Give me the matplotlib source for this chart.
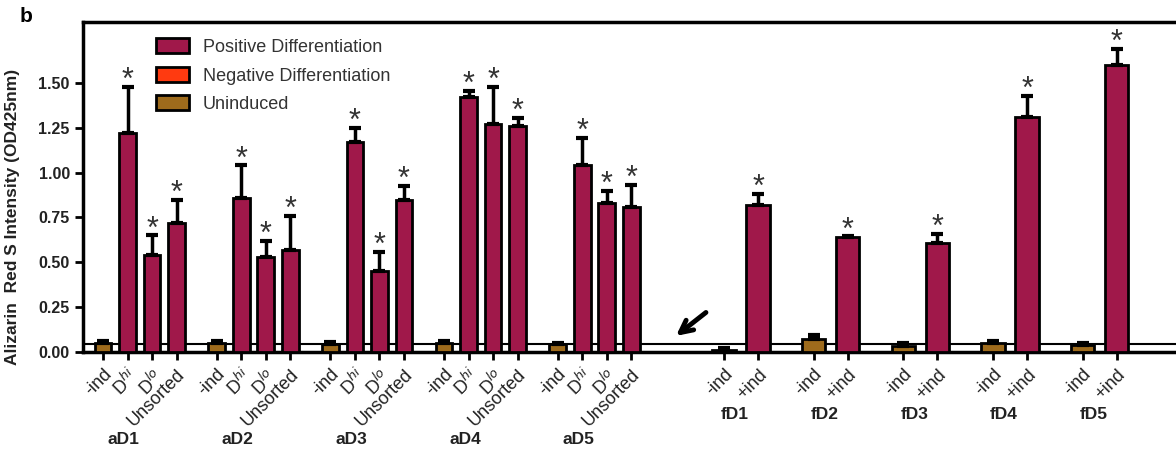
import numpy as np
import matplotlib.pyplot as plt
from matplotlib.patches import Patch

plt.rcParams['font.family'] = ['Liberation Sans', 'DejaVu Sans']

# values
a_groups = ['aD1', 'aD2', 'aD3', 'aD4', 'aD5']
a_labels = ['-ind', 'D$^{hi}$', 'D$^{lo}$', 'Unsorted']
a_means = [[0.05, 1.22, 0.54, 0.72],
           [0.05, 0.86, 0.53, 0.57],
           [0.045, 1.17, 0.45, 0.85],
           [0.05, 1.42, 1.27, 1.26],
           [0.045, 1.04, 0.83, 0.81]]
a_err = [[0.01, 0.26, 0.11, 0.13],
         [0.01, 0.18, 0.09, 0.19],
         [0.01, 0.08, 0.11, 0.075],
         [0.01, 0.035, 0.21, 0.045],
         [0.005, 0.155, 0.07, 0.12]]

f_groups = ['fD1', 'fD2', 'fD3', 'fD4', 'fD5']
f_labels = ['-ind', '+ind']
f_minus = [0.01, 0.07, 0.035, 0.05, 0.04]
f_minus_err = [0.015, 0.025, 0.015, 0.012, 0.012]
f_plus = [0.82, 0.64, 0.61, 1.31, 1.60]
f_plus_err = [0.06, 0.005, 0.05, 0.12, 0.09]

baseline = 0.045

pos_col = '#A0184A'
neg_col = '#FF3A10'
uni_col = '#9E6B1C'

fig = plt.figure(figsize=(11.76, 4.55), dpi=100)
ax = fig.add_axes([83 / 1176, 1 - 352 / 455, 1 - 83 / 1176, 330 / 455])

xticks, xlabels = [], []
err_kw = dict(elinewidth=2.5, capsize=4, capthick=3, ecolor='black')
star_kw = dict(ha='center', va='baseline', fontsize=22, color='#333333', zorder=4)

# adult groups
for g in range(len(a_groups)):
    xs = g * 4.64 + np.arange(4)
    cols = [uni_col, pos_col, pos_col, pos_col]
    errs = [np.zeros(4), np.array(a_err[g])]
    ax.bar(xs, a_means[g], width=0.68, color=cols, edgecolor='black', linewidth=2,
           yerr=errs, error_kw=err_kw, zorder=3)
    for i in range(1, 4):
        ax.text(xs[i], a_means[g][i] + a_err[g][i] - 0.012, '*', **star_kw)
    xticks += list(xs)
    xlabels += a_labels
    ax.text(xs[1] - 0.15, -0.49, a_groups[g], ha='center', va='center', fontsize=12.5,
            fontweight='bold', color='#222222')

# fetal groups
for g in range(len(f_groups)):
    x0 = 25.35 + g * 3.66
    xs = np.array([x0, x0 + 1.39])
    ax.bar(xs, [f_minus[g], f_plus[g]], width=0.95, color=[uni_col, pos_col],
           edgecolor='black', linewidth=2,
           yerr=[[0, 0], [f_minus_err[g], f_plus_err[g]]], error_kw=err_kw, zorder=3)
    ax.text(xs[1], f_plus[g] + f_plus_err[g] - 0.012, '*', **star_kw)
    xticks += list(xs)
    xlabels += f_labels
    ax.text(xs[0] + 0.45, -0.35, f_groups[g], ha='center', va='center', fontsize=12.5,
            fontweight='bold', color='#222222')

ax.axhline(baseline, color='black', lw=1.5, zorder=2)

ax.set_xlim(-0.82, 43.8)
ax.set_ylim(0, 1.84)
ax.set_yticks([0, 0.25, 0.5, 0.75, 1.0, 1.25, 1.5])
ax.set_yticklabels(['%.2f' % v for v in ax.get_yticks()], fontweight='bold', fontsize=11.5,
                   color='#222222')
ax.set_xticks(xticks)
ax.set_xticklabels(xlabels, rotation=45, ha='right', va='top', rotation_mode='anchor',
                   fontsize=13, color='#222222')
ax.tick_params(axis='both', direction='out', length=6, width=2)
ax.tick_params(axis='x', pad=4)
for s in ['left', 'bottom', 'top']:
    ax.spines[s].set_linewidth(2.5)
ax.spines['right'].set_visible(False)
ax.set_ylabel('Alizarin  Red S Intensity (OD425nm)', fontsize=12.5, fontweight='bold',
              color='#222222')
ax.yaxis.set_label_coords(-0.058, 0.41)

ax.annotate('', xy=(23.3, 0.08), xytext=(24.7, 0.23),
            arrowprops=dict(arrowstyle='->', lw=3.5, mutation_scale=22, color='black'))

handles = [Patch(facecolor=pos_col, edgecolor='black', lw=2),
           Patch(facecolor=neg_col, edgecolor='black', lw=2),
           Patch(facecolor=uni_col, edgecolor='black', lw=2)]
ax.legend(handles, ['Positive Differentiation', 'Negative Differentiation', 'Uninduced'],
          loc='upper left', bbox_to_anchor=(0.052, 1.0), frameon=False, fontsize=13,
          labelcolor='#333333', handlelength=1.8, handleheight=0.9, labelspacing=0.6,
          handletextpad=0.8)

fig.text(20 / 1176, 1 - 16 / 455, 'b', fontsize=15, fontweight='bold', va='center')

fig.savefig('out.png', dpi=100)
